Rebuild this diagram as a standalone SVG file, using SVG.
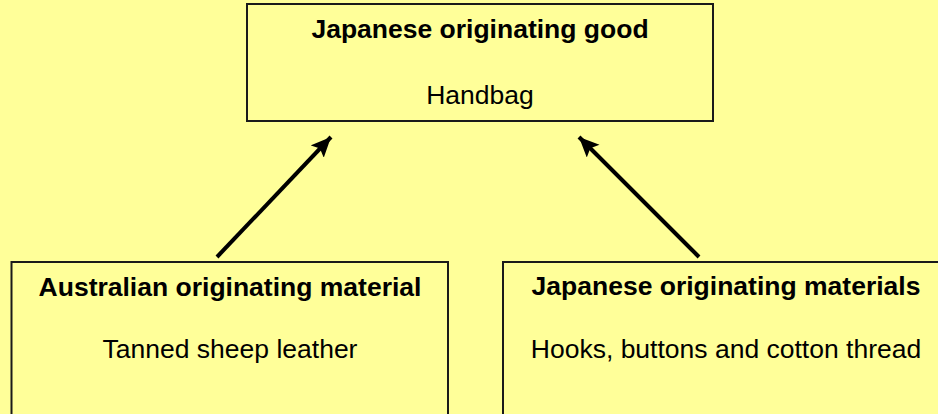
<svg xmlns="http://www.w3.org/2000/svg" width="938" height="414" viewBox="0 0 938 414">
<style>
.box{fill:#FFFF99;stroke:#1a1a1a;stroke-width:2}
.t{font-family:"Liberation Sans",Arial,sans-serif;font-size:26.5px;fill:#000;text-anchor:middle}
.b{font-weight:bold}
.conn{stroke:#000;stroke-width:4;fill:none}
</style>
<defs>
<marker id="ah" markerUnits="userSpaceOnUse" markerWidth="22" markerHeight="20" refX="20" refY="9" orient="auto">
<path d="M0,0 L20,9 L0,18 L4,9 Z" fill="#000"/>
</marker>
</defs>
<rect x="0" y="0" width="938" height="414" fill="#FFFF99"/>
<g id="node-good">
<rect class="box" x="247" y="4" width="466" height="117"/>
<text class="t b" x="480" y="38">Japanese originating good</text>
<text class="t" x="480" y="104">Handbag</text>
</g>
<g id="node-australian">
<rect class="box" x="11.5" y="262" width="436.5" height="170"/>
<text class="t b" x="230" y="296">Australian originating material</text>
<text class="t" x="230" y="358">Tanned sheep leather</text>
</g>
<g id="node-japanese">
<rect class="box" x="503" y="262" width="446" height="170"/>
<text class="t b" x="726" y="295">Japanese originating materials</text>
<text class="t" x="726" y="358">Hooks, buttons and cotton thread</text>
</g>
<g id="connectors">
<line class="conn" x1="217" y1="257" x2="331" y2="137" marker-end="url(#ah)"/>
<line class="conn" x1="699" y1="257" x2="579" y2="137" marker-end="url(#ah)"/>
</g>
</svg>
